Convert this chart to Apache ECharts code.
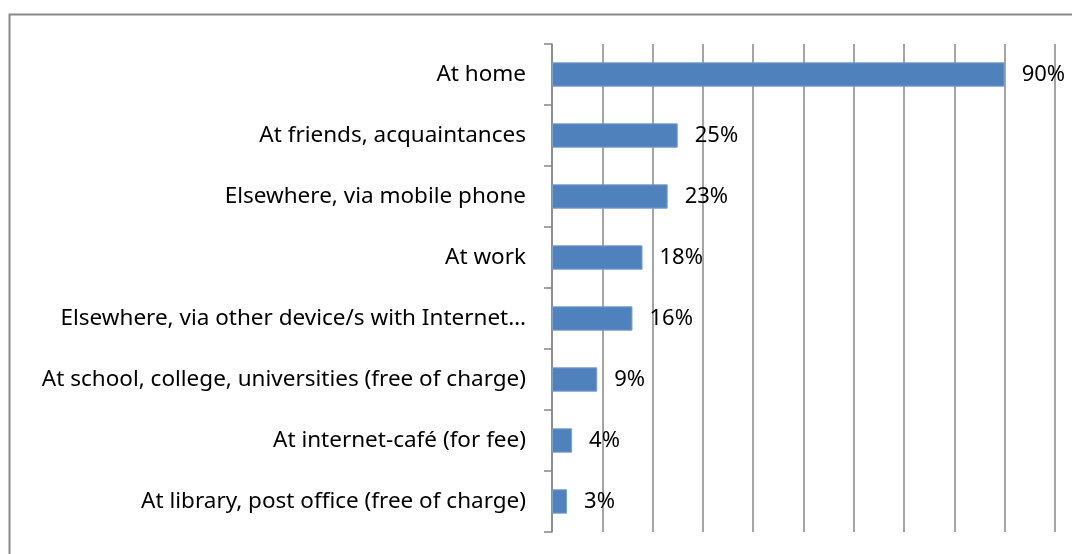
<!DOCTYPE html>
<html>
<head>
    <meta charset="utf-8">
    <title>Internet access locations</title>
    <script src="https://cdn.jsdelivr.net/npm/echarts@6/dist/echarts.min.js"></script>
    <style>
        html, body {margin: 0; padding: 0; background: #fff;}
        #chart {width: 1072px; height: 554px;}
    </style>
</head>
<body>
<div id="chart"></div>
<script type="text/javascript">
    // categories, top to bottom
    var places = [
        'At home',
        'At friends, acquaintances',
        'Elsewhere, via mobile phone',
        'At work',
        'Elsewhere, via other device/s with Internet…',
        'At school, college, universities (free of charge)',
        'At internet-café (for fee)',
        'At library, post office (free of charge)'
    ];
    // share of respondents, %
    var shares = [90, 25, 23, 18, 16, 9, 4, 3];

    var myChart = echarts.init(document.getElementById('chart'));

    var option = {
        animation: false,
        textStyle: {fontFamily: 'Noto Sans'},
        graphic: [{
            type: 'rect',
            shape: {x: 9.5, y: 14.5, width: 1200, height: 700},
            style: {fill: 'none', stroke: '#898989', lineWidth: 2},
            silent: true,
            z: -10
        }],
        grid: {left: 552, top: 44, right: 17, bottom: 22},
        xAxis: {
            type: 'value',
            min: 0,
            max: 100,
            interval: 10,
            axisLine: {show: false},
            axisTick: {show: false},
            axisLabel: {show: false},
            splitLine: {lineStyle: {color: '#878787', width: 1.5}}
        },
        yAxis: {
            type: 'category',
            inverse: true,
            data: places,
            axisLine: {show: true, lineStyle: {color: '#878787', width: 1.5}},
            axisTick: {show: true, length: 8, lineStyle: {color: '#878787', width: 1.5}},
            axisLabel: {color: '#000', fontSize: 22.5, margin: 26}
        },
        series: [{
            type: 'bar',
            data: shares,
            barCategoryGap: '60%',
            itemStyle: {color: '#4F81BD', borderColor: '#7DA0CE', borderWidth: 1},
            label: {
                show: true,
                position: 'right',
                distance: 17,
                color: '#000',
                fontSize: 22,
                formatter: '{c}%'
            }
        }]
    };

    myChart.setOption(option);
</script>
</body>
</html>
